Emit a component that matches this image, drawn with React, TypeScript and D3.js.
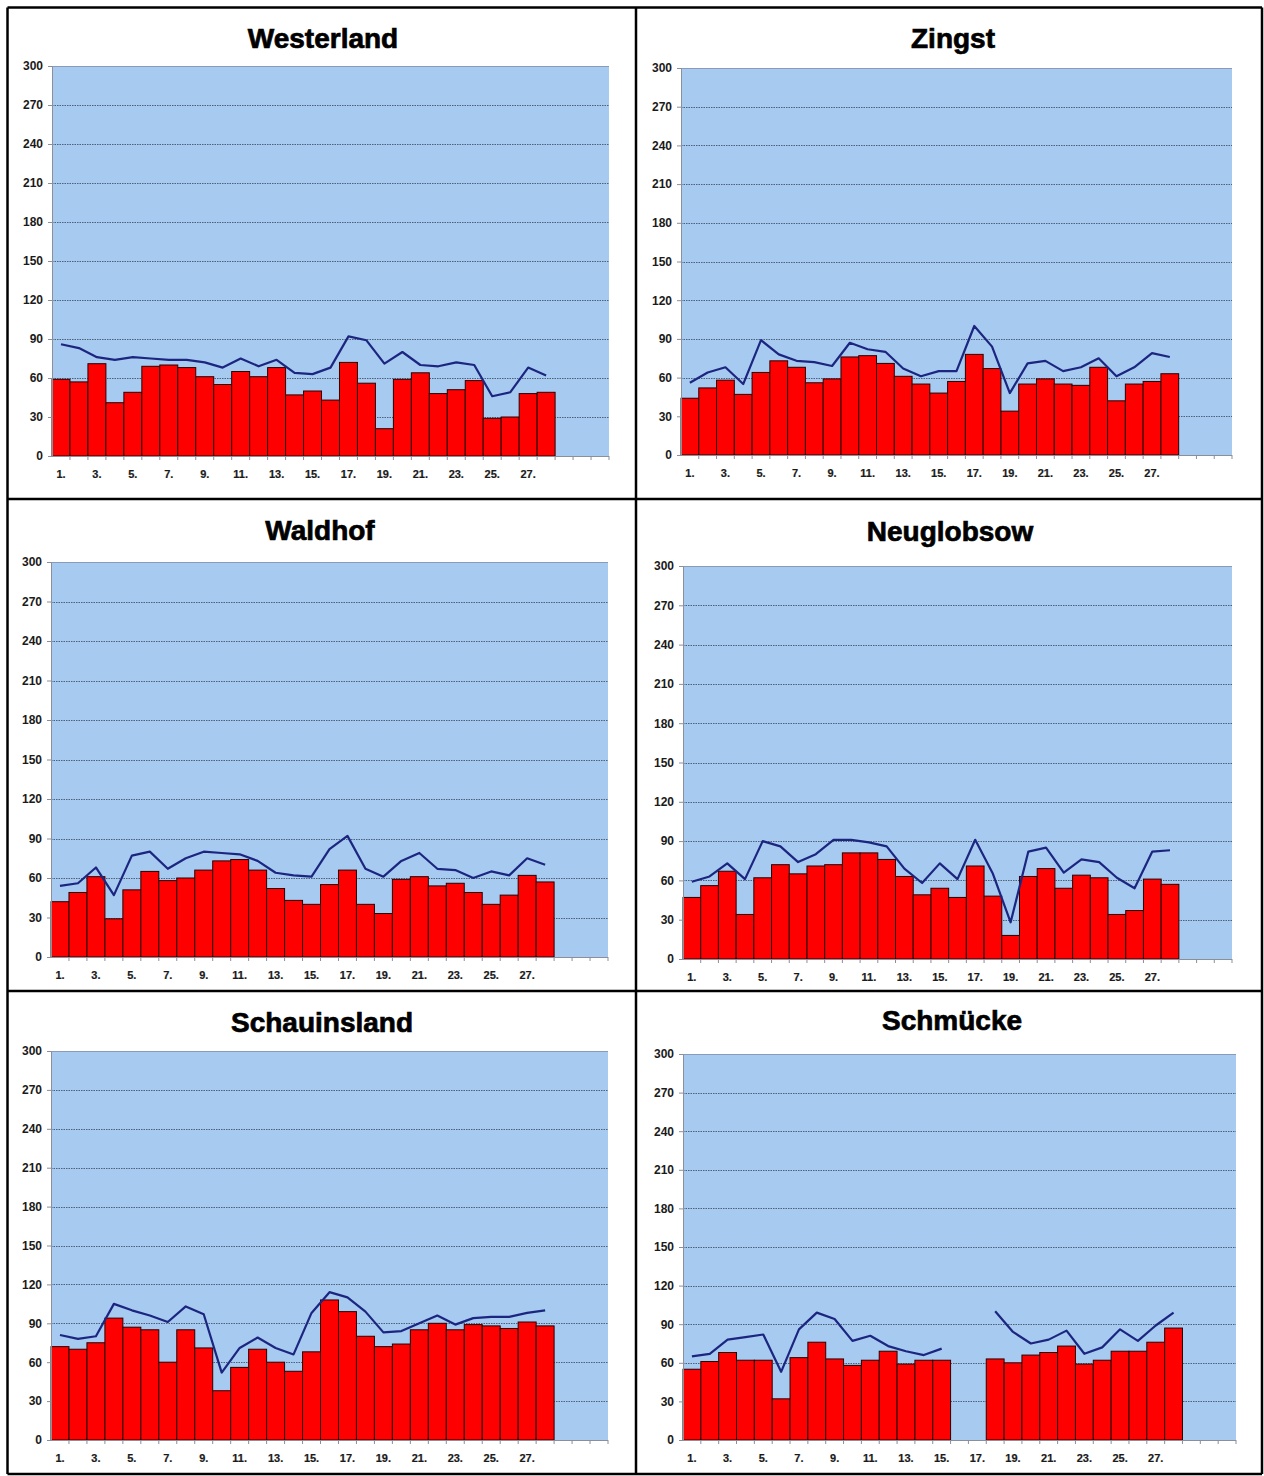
import * as React from "react";
import * as d3 from "d3";
import { useEffect, useRef } from "react";

// days of the month on the category axis
const days = [
  1, 2, 3, 4, 5, 6, 7, 8, 9, 10, 11, 12, 13, 14, 15, 16, 17, 18, 19, 20, 21,
  22, 23, 24, 25, 26, 27, 28, 29, 30, 31,
];
const yTicks = [0, 30, 60, 90, 120, 150, 180, 210, 240, 270, 300];

const westerlandBars = [59, 57, 71, 41, 49, 69, 70, 68, 61, 55, 65, 61, 68, 47, 50, 43, 72, 56, 21, 59, 64, 48, 51, 58, 29, 30, 48, 49];
const westerlandLine = [86, 83, 76, 74, 76, 75, 74, 74, 72, 68, 75, 69, 74, 64, 63, 68, 92, 89, 71, 80, 70, 69, 72, 70, 46, 49, 68, 62];

const zingstBars = [44, 52, 58, 47, 64, 73, 68, 56, 59, 76, 77, 71, 61, 55, 48, 57, 78, 67, 34, 55, 59, 55, 54, 68, 42, 55, 57, 63];
const zingstLine = [56, 64, 68, 55, 89, 78, 73, 72, 69, 87, 82, 80, 67, 61, 65, 65, 100, 84, 48, 71, 73, 65, 68, 75, 61, 68, 79, 76];

const waldhofBars = [42, 49, 61, 29, 51, 65, 58, 60, 66, 73, 74, 66, 52, 43, 40, 55, 66, 40, 33, 59, 61, 54, 56, 49, 40, 47, 62, 57];
const waldhofLine = [54, 56, 68, 47, 77, 80, 67, 75, 80, 79, 78, 73, 64, 62, 61, 82, 92, 67, 61, 73, 79, 67, 66, 60, 65, 62, 75, 70];

const neuglobsowBars = [47, 56, 67, 34, 62, 72, 65, 71, 72, 81, 81, 76, 63, 49, 54, 47, 71, 48, 18, 63, 69, 54, 64, 62, 34, 37, 61, 57];
const neuglobsowLine = [59, 63, 73, 61, 90, 86, 74, 80, 91, 91, 89, 86, 69, 58, 73, 61, 91, 65, 28, 82, 85, 66, 76, 74, 62, 54, 82, 83];

const schauinslandBars = [72, 70, 75, 94, 87, 85, 60, 85, 71, 38, 56, 70, 60, 53, 68, 108, 99, 80, 72, 74, 85, 90, 85, 89, 88, 86, 91, 88];
const schauinslandLine = [81, 78, 80, 105, 100, 96, 91, 103, 97, 52, 71, 79, 71, 66, 98, 114, 110, 99, 83, 84, 90, 96, 89, 94, 95, 95, 98, 100];

const schmueckeBars = [55, 61, 68, 62, 62, 32, 64, 76, 63, 58, 62, 69, 59, 62, 62, null, null, 63, 60, 66, 68, 73, 59, 62, 69, 69, 76, 87];
const schmueckeLine = [65, 67, 78, 80, 82, 53, 86, 99, 94, 77, 81, 73, 69, 66, 71, null, null, 100, 84, 75, 78, 85, 67, 72, 86, 77, 89, 99];

const stations = [
  { name: "Westerland", bars: westerlandBars, line: westerlandLine },
  { name: "Zingst", bars: zingstBars, line: zingstLine },
  { name: "Waldhof", bars: waldhofBars, line: waldhofLine },
  { name: "Neuglobsow", bars: neuglobsowBars, line: neuglobsowLine },
  { name: "Schauinsland", bars: schauinslandBars, line: schauinslandLine },
  { name: "Schmücke", bars: schmueckeBars, line: schmueckeLine },
];

// plot rectangles of the six panels (layout only)
const frames = [
  { x0: 52, x1: 609, y0: 66, y1: 456, tx: 323, ty: 41 },
  { x0: 681, x1: 1232, y0: 68, y1: 455, tx: 953, ty: 41 },
  { x0: 51, x1: 608, y0: 562, y1: 957, tx: 320, ty: 533 },
  { x0: 683, x1: 1232, y0: 566, y1: 959, tx: 950, ty: 534 },
  { x0: 51, x1: 608, y0: 1051, y1: 1440, tx: 322, ty: 1025 },
  { x0: 683, x1: 1236, y0: 1054, y1: 1440, tx: 952, ty: 1023 },
];

const W = 1264;
const H = 1476;

function drawPanel(svg: d3.Selection<SVGSVGElement, unknown, null, undefined>, idx: number) {
  const st = stations[idx];
  const f = frames[idx];
  const g = svg.append("g");

  const x = d3
    .scaleBand<number>()
    .domain(days)
    .range([f.x0, f.x1])
    .padding(0);
  const y = d3.scaleLinear().domain([0, 300]).range([f.y1, f.y0]);

  // title
  g.append("text")
    .attr("x", f.tx)
    .attr("y", f.ty)
    .attr("text-anchor", "middle")
    .attr("dominant-baseline", "middle")
    .attr("font-family", '"Liberation Sans Narrow", "Liberation Sans", sans-serif')
    .attr("font-weight", "bold")
    .attr("font-size", 28)
    .attr("stroke", "#000")
    .attr("stroke-width", 0.7)
    .text(st.name);

  // plot background
  g.append("rect")
    .attr("x", f.x0)
    .attr("y", f.y0)
    .attr("width", f.x1 - f.x0)
    .attr("height", f.y1 - f.y0)
    .attr("fill", "#a6caf0");
  g.append("line")
    .attr("x1", f.x0)
    .attr("x2", f.x1)
    .attr("y1", f.y0 + 0.5)
    .attr("y2", f.y0 + 0.5)
    .attr("stroke", "#8a9ab8");

  // gridlines
  g.selectAll(".grid")
    .data(yTicks.filter((t) => t > 0 && t < 300))
    .enter()
    .append("line")
    .attr("x1", f.x0)
    .attr("x2", f.x1)
    .attr("y1", (d) => Math.round(y(d)) + 0.5)
    .attr("y2", (d) => Math.round(y(d)) + 0.5)
    .attr("stroke", "#4f5f78")
    .attr("stroke-width", 1)
    .attr("stroke-dasharray", "1.5,1");

  // bars
  const barData = st.bars
    .map((v, i) => ({ day: days[i], v }))
    .filter((d) => d.v !== null) as { day: number; v: number }[];
  g.selectAll(".bar")
    .data(barData)
    .enter()
    .append("rect")
    .attr("x", (d) => x(d.day)!)
    .attr("y", (d) => y(d.v))
    .attr("width", x.bandwidth())
    .attr("height", (d) => y(0) - y(d.v))
    .attr("fill", "#ff0000")
    .attr("stroke", "#2a0000")
    .attr("stroke-width", 1);

  // line
  const lineGen = d3
    .line<number | null>()
    .defined((d) => d !== null)
    .x((_, i) => x(days[i])! + x.bandwidth() / 2)
    .y((d) => y(d as number));
  g.append("path")
    .datum(st.line)
    .attr("d", lineGen)
    .attr("fill", "none")
    .attr("stroke", "#1c2680")
    .attr("stroke-width", 2.2)
    .attr("stroke-linejoin", "round");

  // y axis
  const yAxis = d3
    .axisLeft(y)
    .tickValues(yTicks)
    .tickSize(4)
    .tickPadding(5)
    .tickSizeOuter(0);
  g.append("g")
    .attr("transform", `translate(${f.x0}, 0)`)
    .call(yAxis)
    .call((a) => a.select(".domain").attr("stroke", "#8a8f9a"))
    .call((a) => a.selectAll(".tick line").attr("stroke", "#8a8f9a"))
    .call((a) =>
      a
        .selectAll(".tick text")
        .attr("font-family", '"Liberation Sans", Arial, sans-serif')
        .attr("font-weight", "bold")
        .attr("font-size", 12)
        .attr("fill", "#1a1a1a")
    );

  // x axis: ticks between categories, labels at odd days up to 27
  const xg = g.append("g");
  xg.append("line")
    .attr("x1", f.x0)
    .attr("x2", f.x1)
    .attr("y1", f.y1 + 0.5)
    .attr("y2", f.y1 + 0.5)
    .attr("stroke", "#8a8f9a");
  xg.selectAll(".xt")
    .data(days)
    .enter()
    .append("line")
    .attr("x1", (d) => x(d)! + x.bandwidth())
    .attr("x2", (d) => x(d)! + x.bandwidth())
    .attr("y1", f.y1)
    .attr("y2", f.y1 + 4)
    .attr("stroke", "#8a8f9a");
  xg.selectAll(".xl")
    .data(days.filter((d) => d % 2 === 1 && d <= 27))
    .enter()
    .append("text")
    .attr("x", (d) => x(d)! + x.bandwidth() / 2)
    .attr("y", f.y1 + 22)
    .attr("text-anchor", "middle")
    .attr("font-family", '"Liberation Sans Narrow", "Liberation Sans", sans-serif')
    .attr("font-weight", "bold")
    .attr("font-size", 11)
    .attr("fill", "#1a1a1a")
    .attr("stroke", "#1a1a1a")
    .attr("stroke-width", 0.2)
    .text((d) => d + ".");
}

function generateChart(svgRef: React.RefObject<SVGSVGElement>) {
  const svg = d3.select(svgRef.current!);
  svg.selectAll("*").remove();

  svg.append("rect").attr("width", W).attr("height", H).attr("fill", "#fff");

  for (let i = 0; i < stations.length; i++) drawPanel(svg, i);

  // table borders
  const cols = [7.5, 636, 1262];
  const rows = [7.5, 499, 991, 1474];
  svg
    .selectAll(".vb")
    .data(cols)
    .enter()
    .append("line")
    .attr("x1", (d) => d)
    .attr("x2", (d) => d)
    .attr("y1", rows[0])
    .attr("y2", rows[3])
    .attr("stroke", "#000")
    .attr("stroke-width", 2.5);
  svg
    .selectAll(".hb")
    .data(rows)
    .enter()
    .append("line")
    .attr("x1", cols[0])
    .attr("x2", cols[2])
    .attr("y1", (d) => d)
    .attr("y2", (d) => d)
    .attr("stroke", "#000")
    .attr("stroke-width", 2.5);
}

export default function App() {
  const svg = useRef<SVGSVGElement>(null);
  useEffect(() => {
    generateChart(svg);
  }, []);
  return (
    <svg
      ref={svg}
      width={W}
      height={H}
      style={{ position: "absolute", left: 0, top: 0, display: "block" }}
    />
  );
}
